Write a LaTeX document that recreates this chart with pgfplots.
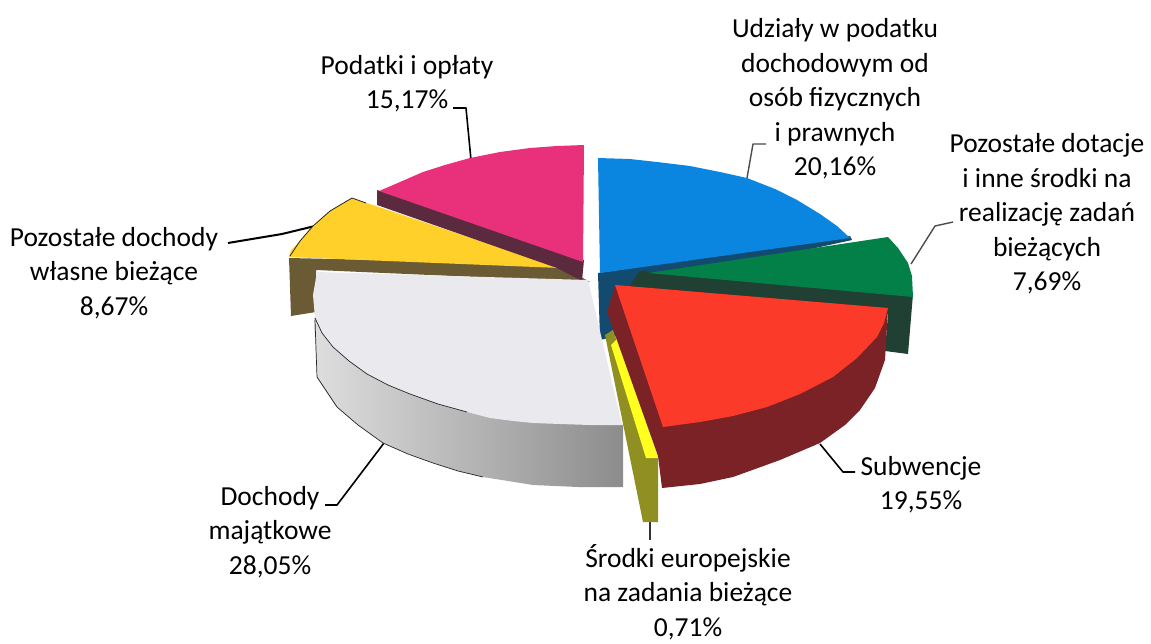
\documentclass[border=0pt]{standalone}
\usepackage{pgfplots}
\pgfplotsset{compat=1.18}
\usepackage{fontspec}
\setmainfont{Carlito}
\newcommand{\lbl}[3]{\node[font=\fontsize{27.5}{34.5}\selectfont,align=center,text=black,inner sep=0pt] at (axis cs:#1,#2) {#3};}
\definecolor{cpink}{HTML}{E8317A}
\definecolor{cpinkd}{HTML}{5B2A3E}
\definecolor{cyel}{HTML}{FFD02A}
\definecolor{cyeld}{HTML}{6B5B35}
\definecolor{cblue}{HTML}{0A86E0}
\definecolor{cblued}{HTML}{134B70}
\definecolor{cgreen}{HTML}{038048}
\definecolor{cgreend}{HTML}{1F4033}
\definecolor{cred}{HTML}{FB3A2A}
\definecolor{credd}{HTML}{7A2226}
\definecolor{cwhite}{HTML}{E9E9EE}
\definecolor{colive}{HTML}{8F8F22}
\definecolor{cyl}{HTML}{FFFF20}
\begin{document}
\begin{tikzpicture}
\begin{axis}[scale only axis,width=1151pt,height=643pt,xmin=0,xmax=1151,ymin=0,ymax=643,y dir=reverse,hide axis,clip=false,
  every axis plot/.append style={no markers,line join=round}]
% page extent
\addplot[draw=none] coordinates {(0,0)(1151,643)};
% leader lines
\addplot[black,line width=1.6pt] coordinates {(453,108)(466,108)(471,160)};
\addplot[black!70,line width=1.4pt] coordinates {(766,144)(753,144)(747,178)};
\addplot[black!70,line width=1.4pt] coordinates {(911,264)(935,226)(953,222)};
\addplot[black,line width=1.6pt] coordinates {(820,444)(843,472)(855,472)};
\addplot[black!80,line width=1.2pt] coordinates {(650,520)(650,540)};
\addplot[black,line width=1.6pt] coordinates {(384,443)(337,505)(325,505)};
\addplot[black,line width=2pt] coordinates {(315,226)(282,234)(228,243)};
% yellow
\addplot[fill=cyeld,draw=none] coordinates {(289,258)(291,316)(316,312)(316,270)(590,282)(558,264)};
\addplot[fill=cyel,draw=none] coordinates {(352,198)(560,268)(289,257)(291,250)(300,241)(313,226)(330,211)};
\addplot[black!85,line width=0.8pt] coordinates {(290,256)(300,241)(313,226)(330,211)(352,198)(366,203)};
% pink
\addplot[fill=cpinkd,draw=none] coordinates {(377,190)(377,205)(557,268)(582,281)(584,260)};
\addplot[fill=cpink,draw=none] coordinates {(584,145)(557,146)(530,148)(500,152)(470,158)(445,165)(423,172)(400,182)(379,191)(583,262)};
% blue
\addplot[fill=cblued,draw=none] coordinates {(598,273)(600,340)(622,335)(622,292)(660,282)(852,240)(850,236)};
\addplot[fill=cblue,draw=none] coordinates {(598,158)(630,159)(657,162)(690,166)(720,172)(747,178)(775,189)(797,200)(820,214)(837,226)(850,238)(600,273)};
% green
\addplot[fill=cgreend,draw=none] coordinates {(640,271)(913,294)(908,354)(885,351)(888,314)(625,292)};
\addplot[fill=cgreen,draw=none] coordinates {(648,273)(888,237)(898,248)(908,263)(912,276)(913,297)};
% grey/white slice
\addplot[shade,left color=black!13,right color=black!45,draw=none] coordinates {(314,318)(317,377)(337,407)(358,425)(383,443)(408,454)(433,463)(458,471)(483,477)(508,481)(533,485)(578,487)(623,487)(623,425)(513,415)};
\addplot[fill=cwhite,draw=none] coordinates {(317,272)(588,280)(622,425)(590,425)(560,424)(533,423)(513,421)(490,418)(467,412)(438,404)(410,394)(388,385)(367,374)(349,361)(333,347)(322,333)(315,318)(313,295)};
\addplot[black!85,line width=0.7pt] coordinates {(315,318)(322,333)(333,347)(349,361)(367,374)(388,385)(410,394)(438,404)(467,412)};
\addplot[black!85,line width=0.7pt] coordinates {(315,320)(317,377)(337,407)(358,425)(383,443)(408,454)(433,463)(458,471)(483,477)};
% sliver
\addplot[fill=colive,draw=none] coordinates {(605,335)(613,330)(658,458)(658,522)(643,522)};
\addplot[fill=cyl,draw=none] coordinates {(618,338)(658,458)(646,458)(611,345)};
% red
\addplot[fill=credd,draw=none] coordinates {(615,285)(607,312)(658,456)(662,488)(700,484)(733,477)(780,460)(820,443)(845,425)(860,410)(875,388)(885,360)(888,308)};
\addplot[fill=cred,draw=none] coordinates {(615,285)(888,308)(884,323)(877,337)(857,358)(833,377)(800,394)(767,407)(733,416)(700,422)(663,427)};
% labels
\lbl{835}{99}{Udziały w podatku\\dochodowym od\\osób fizycznych\\i prawnych\\20,16\%}
\lbl{407}{83.5}{Podatki i opłaty\\15,17\%}
\lbl{1047}{214}{Pozostałe dotacje\\i inne środki na\\realizację zadań\\bieżących\\7,69\%}
\lbl{114}{273}{Pozostałe dochody\\własne bieżące\\8,67\%}
\lbl{921}{484.5}{Subwencje\\19,55\%}
\lbl{688}{592}{Środki europejskie\\na zadania bieżące\\0,71\%}
\lbl{270}{532}{Dochody\\majątkowe\\28,05\%}
\end{axis}
\end{tikzpicture}
\end{document}
